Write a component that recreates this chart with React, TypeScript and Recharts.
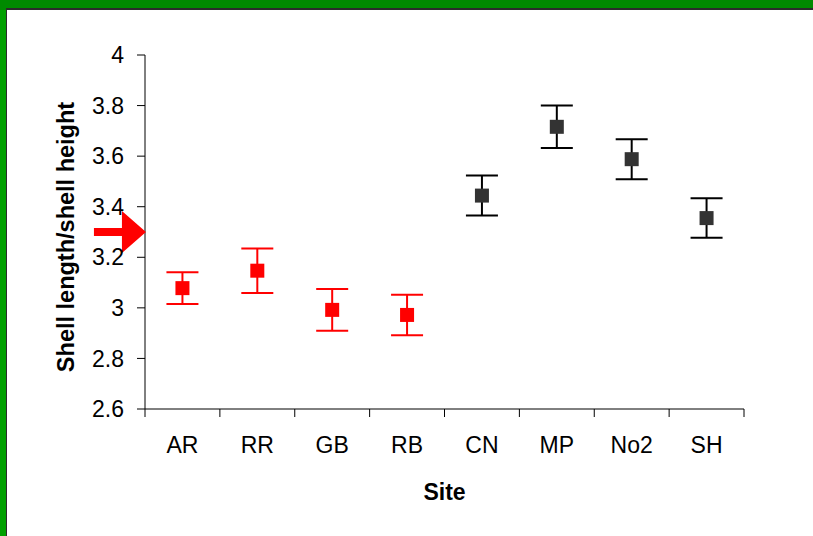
import React from 'react';
import {
  ComposedChart,
  Line,
  XAxis,
  YAxis,
  ErrorBar,
  ReferenceDot,
} from 'recharts';

// ---- data ----
const sites = ['AR', 'RR', 'GB', 'RB', 'CN', 'MP', 'No2', 'SH'];
const shellRatio = [3.078, 3.147, 2.992, 2.972, 3.444, 3.716, 3.588, 3.355];
const ratioError = [0.063, 0.088, 0.083, 0.08, 0.079, 0.084, 0.079, 0.078];
const siteGroup = ['red', 'red', 'red', 'red', 'dark', 'dark', 'dark', 'dark'];
const yTicks = [2.6, 2.8, 3, 3.2, 3.4, 3.6, 3.8, 4];
const arrowLevel = 3.3;

const data = sites.map((site, i) => ({
  site,
  red: siteGroup[i] === 'red' ? shellRatio[i] : null,
  redErr: siteGroup[i] === 'red' ? ratioError[i] : null,
  dark: siteGroup[i] === 'dark' ? shellRatio[i] : null,
  darkErr: siteGroup[i] === 'dark' ? ratioError[i] : null,
}));

const FONT = "Arial, 'Liberation Sans', sans-serif";

const squareDot = (fill: string) => (props: any) => {
  const { cx, cy, value, index } = props;
  if (value == null || cy == null || cx == null) return <g key={`n${index}`} />;
  return <rect key={`d${index}`} x={cx - 7} y={cy - 7} width={14} height={14} fill={fill} />;
};

const SiteTick = (props: any) => {
  const { x, y, payload, index, visibleTicksCount } = props;
  const half = payload && payload.offset ? payload.offset : 37.5;
  const axisY = y - 28;
  return (
    <g>
      <line x1={x - half} x2={x - half} y1={axisY} y2={axisY + 8} stroke="#000" strokeWidth={1} />
      {index === visibleTicksCount - 1 && (
        <line x1={x + half} x2={x + half} y1={axisY} y2={axisY + 8} stroke="#000" strokeWidth={1} />
      )}
      <text x={x} y={y} dy="0.71em" textAnchor="middle" fontSize={23} fontFamily={FONT} fill="#000">
        {payload.value}
      </text>
    </g>
  );
};

const ArrowShape = (props: any) => {
  const { cx, cy } = props;
  if (cx == null || cy == null) return <g />;
  const tx = cx - 36.5;
  const ty = cy;
  const pts = [
    [tx - 52, ty - 4],
    [tx - 24, ty - 4],
    [tx - 24, ty - 21],
    [tx, ty],
    [tx - 24, ty + 21],
    [tx - 24, ty + 4],
    [tx - 52, ty + 4],
  ]
    .map((p) => p.join(','))
    .join(' ');
  return <polygon points={pts} fill="#ff0000" />;
};

export default function App() {
  return (
    <div
      style={{
        position: 'absolute',
        left: 0,
        top: 0,
        width: 813,
        height: 536,
        background: '#008a00',
        overflow: 'hidden',
      }}
    >
      <div
        style={{
          position: 'absolute',
          left: 0,
          top: 10,
          width: 6,
          bottom: 0,
          background: '#00a000',
        }}
      />
      <div
        style={{
          position: 'absolute',
          left: 6,
          top: 8,
          right: 0,
          bottom: 0,
          background: '#ffffff',
          borderTop: '2px solid #2b2b2b',
          borderLeft: '1px solid #2b2b2b',
        }}
      />
      <div style={{ position: 'absolute', left: 0, top: 0 }}>
        <ComposedChart
          width={813}
          height={536}
          data={data}
          margin={{ top: 55, right: 69, bottom: 0, left: 0 }}
        >
          <XAxis
            dataKey="site"
            scale="band"
            height={127}
            axisLine={{ stroke: '#000', strokeWidth: 1 }}
            tickLine={false}
            tickSize={8}
            tickMargin={20}
            tick={<SiteTick />}
            interval={0}
            label={{
              value: 'Site',
              position: 'insideBottom',
              offset: 36,
              fontSize: 23,
              fontWeight: 'bold',
              fontFamily: FONT,
              fill: '#000',
            }}
          />
          <XAxis
            xAxisId="top"
            dataKey="site"
            orientation="top"
            scale="band"
            height={0}
            tick={false}
            tickLine={false}
            axisLine={{ stroke: '#000', strokeWidth: 1 }}
          />
          <YAxis
            domain={[2.6, 4]}
            ticks={yTicks}
            allowDataOverflow
            width={145}
            axisLine={{ stroke: '#000', strokeWidth: 1 }}
            tickLine={{ stroke: '#000', strokeWidth: 1 }}
            tickSize={8}
            tickMargin={13}
            tick={{ fontSize: 23, fontFamily: FONT, fill: '#000' }}
            label={{
              value: 'Shell length/shell height',
              angle: -90,
              position: 'center',
              dx: -7,
              dy: 5,
              fontSize: 23.5,
              fontWeight: 'bold',
              fontFamily: FONT,
              fill: '#000',
            }}
          />
          <YAxis
            yAxisId="right"
            orientation="right"
            domain={[2.6, 4]}
            width={0}
            tick={false}
            tickLine={false}
            axisLine={{ stroke: '#808080', strokeWidth: 2 }}
          />
          <Line
            dataKey="red"
            stroke="none"
            isAnimationActive={false}
            dot={squareDot('#ff0000')}
            activeDot={false}
            legendType="none"
          >
            <ErrorBar dataKey="redErr" width={16} stroke="#ff0000" strokeWidth={2} direction="y" />
          </Line>
          <Line
            dataKey="dark"
            stroke="none"
            isAnimationActive={false}
            dot={squareDot('#333333')}
            activeDot={false}
            legendType="none"
          >
            <ErrorBar dataKey="darkErr" width={16} stroke="#000000" strokeWidth={2} direction="y" />
          </Line>
          <ReferenceDot x={sites[0]} y={arrowLevel} shape={<ArrowShape />} ifOverflow="visible" />
        </ComposedChart>
      </div>
    </div>
  );
}
